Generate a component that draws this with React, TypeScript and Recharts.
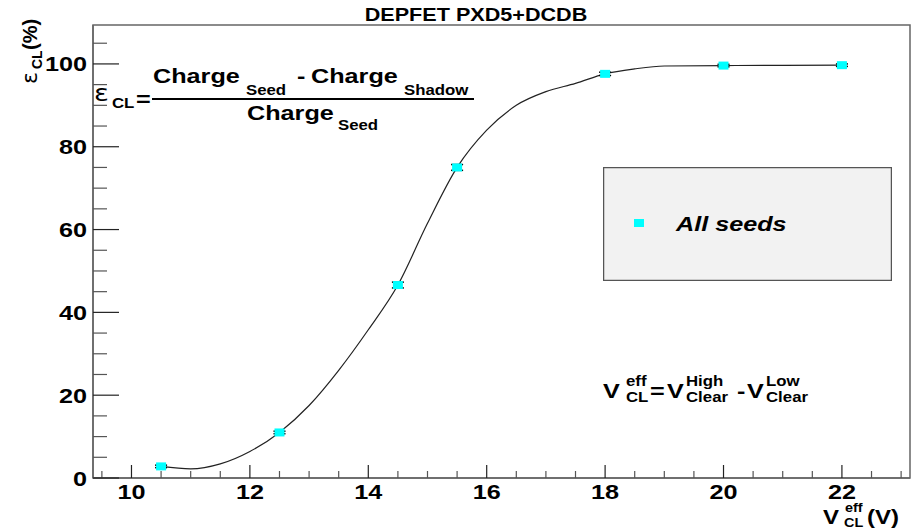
import React from 'react'
import {
  ComposedChart,
  Line,
  Scatter,
  XAxis,
  YAxis,
  ErrorBar,
  ReferenceArea,
  Legend,
} from 'recharts'

// measured points
const voltages = [10.5, 12.5, 14.5, 15.5, 18, 20, 22]
const efficiency = [2.8, 11.0, 46.6, 75.0, 97.6, 99.6, 99.7]
const efficiencyErr = [0.3, 0.3, 0.7, 0.7, 0.4, 0.3, 0.3]

// smooth curve
const curveV = [10.5, 11, 11.5, 12, 12.5, 13, 13.5, 14, 14.5, 15, 15.5, 16, 16.5, 17, 17.5, 18, 18.5, 19, 20, 21, 22]
const curveEff = [2.8, 2.2, 3.4, 6.4, 11.0, 17.5, 26.0, 35.8, 46.6, 61.5, 75.0, 84.0, 90.0, 93.3, 95.3, 97.6, 98.8, 99.5, 99.6, 99.65, 99.7]

const xTicks = [9.5, 10, 10.5, 11, 11.5, 12, 12.5, 13, 13.5, 14, 14.5, 15, 15.5, 16, 16.5, 17, 17.5, 18, 18.5, 19, 19.5, 20, 20.5, 21, 21.5, 22, 22.5, 23]
const xMajor = [10, 12, 14, 16, 18, 20, 22]
const yTicks = [0, 5, 10, 15, 20, 25, 30, 35, 40, 45, 50, 55, 60, 65, 70, 75, 80, 85, 90, 95, 100, 105]
const yMajor = [0, 20, 40, 60, 80, 100]

const X_DOMAIN: [number, number] = [9.35, 23.15]
const Y_DOMAIN: [number, number] = [0, 109.4]

const points = voltages.map((v, i) => ({ v, eff: efficiency[i], err: efficiencyErr[i] }))
const curve = curveV.map((v, i) => ({ v, eff: curveEff[i] }))

const FONT = '"Liberation Sans", Arial, Helvetica, sans-serif'
const SX = 1.2 // the original text is a bit wide

function T({ x, y, size = 21, anchor = 'start', italic = false, bold = true, children, font = FONT }: any) {
  return (
    <text
      transform={`translate(${x},${y}) scale(${SX},1)`}
      fontFamily={font}
      fontSize={size}
      fontWeight={bold ? 'bold' : 'normal'}
      fontStyle={italic ? 'italic' : 'normal'}
      textAnchor={anchor}
      fill="#000"
    >
      {children}
    </text>
  )
}

function XTick({ x, y, payload }: any) {
  const major = xMajor.includes(payload.value)
  return (
    <g>
      <line x1={x} x2={x} y1={y} y2={y - (major ? 13 : 7)} stroke={major ? '#222' : '#555'} strokeWidth={1.2} />
      {major && (
        <T x={x} y={y + 21} anchor="middle">
          {payload.value}
        </T>
      )}
    </g>
  )
}

function YTick({ x, y, payload }: any) {
  const major = yMajor.includes(payload.value)
  return (
    <g>
      <line x1={x} x2={x + (major ? 26 : 14)} y1={y} y2={y} stroke={major ? '#222' : '#555'} strokeWidth={1.2} />
      {major && (
        <T x={x - 6} y={y + 7.5} anchor="end">
          {payload.value}
        </T>
      )}
    </g>
  )
}

function Marker({ cx, cy }: any) {
  return <rect x={cx - 5} y={cy - 4} width={10} height={8} fill="#00ffff" />
}

function LegendBox() {
  return (
    <svg width={289} height={114} style={{ display: 'block' }}>
      <rect x={0.5} y={0.5} width={288} height={113} fill="#f2f2f2" stroke="#555" strokeWidth={1.5} />
      <rect x={31} y={52} width={10} height={8} fill="#00ffff" />
      <T x={73} y={64} italic>
        All seeds
      </T>
    </svg>
  )
}

export default function App() {
  return (
    <div style={{ position: 'absolute', left: 0, top: 0, width: 912, height: 531, background: '#fff' }}>
      <ComposedChart width={912} height={531} margin={{ top: 25, right: 2, bottom: 0, left: 0 }}>
        <ReferenceArea
          x1={X_DOMAIN[0]}
          x2={X_DOMAIN[1]}
          y1={Y_DOMAIN[0]}
          y2={Y_DOMAIN[1]}
          fill="none"
          stroke="#666"
          strokeWidth={1.5}
          ifOverflow="visible"
        />
        <XAxis
          type="number"
          dataKey="v"
          domain={X_DOMAIN}
          allowDataOverflow
          ticks={xTicks}
          interval={0}
          height={53}
          tickSize={0}
          tickMargin={0}
          tickLine={false}
          axisLine={{ stroke: '#666', strokeWidth: 1.5 }}
          tick={<XTick />}
        />
        <YAxis
          type="number"
          dataKey="eff"
          domain={Y_DOMAIN}
          allowDataOverflow
          ticks={yTicks}
          interval={0}
          width={93}
          tickSize={0}
          tickMargin={0}
          tickLine={false}
          axisLine={{ stroke: '#666', strokeWidth: 1.5 }}
          tick={<YTick />}
        />
        <Line
          data={curve}
          dataKey="eff"
          type="monotone"
          stroke="#222"
          strokeWidth={1.2}
          dot={false}
          isAnimationActive={false}
          legendType="none"
        />
        <Scatter
          data={points}
          dataKey="eff"
          name="All seeds"
          shape={<Marker />}
          isAnimationActive={false}
        >
          <ErrorBar dataKey="err" direction="y" width={6} stroke="#000" strokeWidth={1.5} />
        </Scatter>
        <Legend
          layout="horizontal"
          verticalAlign="middle"
          align="center"
          content={<LegendBox />}
          wrapperStyle={{ position: 'absolute', left: 603, top: 167, width: 289, height: 114 }}
        />
      </ComposedChart>
      <svg
        width={912}
        height={531}
        style={{ position: 'absolute', left: 0, top: 0, pointerEvents: 'none' }}
      >
        {/* title */}
        <T x={476} y={21} size={18} anchor="middle">
          DEPFET PXD5+DCDB
        </T>

        {/* y axis title */}
        <g transform="translate(37,84) rotate(-90)">
          <text fontFamily='"DejaVu Sans", sans-serif' fontSize={22} fill="#000" x={0} y={0}>
            ε
          </text>
          <text fontFamily={FONT} fontSize={14} fontWeight="bold" fill="#000" x={15} y={5}>
            CL
          </text>
          <text fontFamily={FONT} fontSize={20} fontWeight="bold" fill="#000" x={34} y={0}>
            (%)
          </text>
        </g>

        {/* x axis title */}
        <T x={823} y={524} size={20}>V</T>
        <T x={845} y={512} size={12}>eff</T>
        <T x={844} y={527} size={12}>CL</T>
        <T x={867} y={524} size={20}>(V)</T>

        {/* efficiency definition */}
        <text
          transform="translate(94,101) scale(1.2,1)"
          fontFamily='"DejaVu Sans", sans-serif'
          fontSize={23}
          fill="#000"
        >
          ε
        </text>
        <T x={112} y={108} size={14}>CL</T>
        <T x={136} y={106} size={21}>=</T>
        <line x1={152} x2={474} y1={99} y2={99} stroke="#000" strokeWidth={2.2} />
        <T x={153} y={83} size={21}>Charge</T>
        <T x={246} y={95} size={14}>Seed</T>
        <T x={297} y={83} size={21}>-</T>
        <T x={311} y={83} size={21}>Charge</T>
        <T x={404} y={95} size={14}>Shadow</T>
        <T x={247} y={120} size={21}>Charge</T>
        <T x={338} y={130} size={14}>Seed</T>

        {/* effective clear voltage */}
        <T x={603} y={398} size={21}>V</T>
        <T x={626} y={386} size={14}>eff</T>
        <T x={626} y={402} size={14}>CL</T>
        <T x={650} y={398} size={21}>=</T>
        <T x={667} y={398} size={21}>V</T>
        <T x={686} y={386} size={14}>High</T>
        <T x={686} y={402} size={14}>Clear</T>
        <T x={737} y={398} size={21}>-</T>
        <T x={747} y={398} size={21}>V</T>
        <T x={766} y={386} size={14}>Low</T>
        <T x={766} y={402} size={14}>Clear</T>
      </svg>
    </div>
  )
}
